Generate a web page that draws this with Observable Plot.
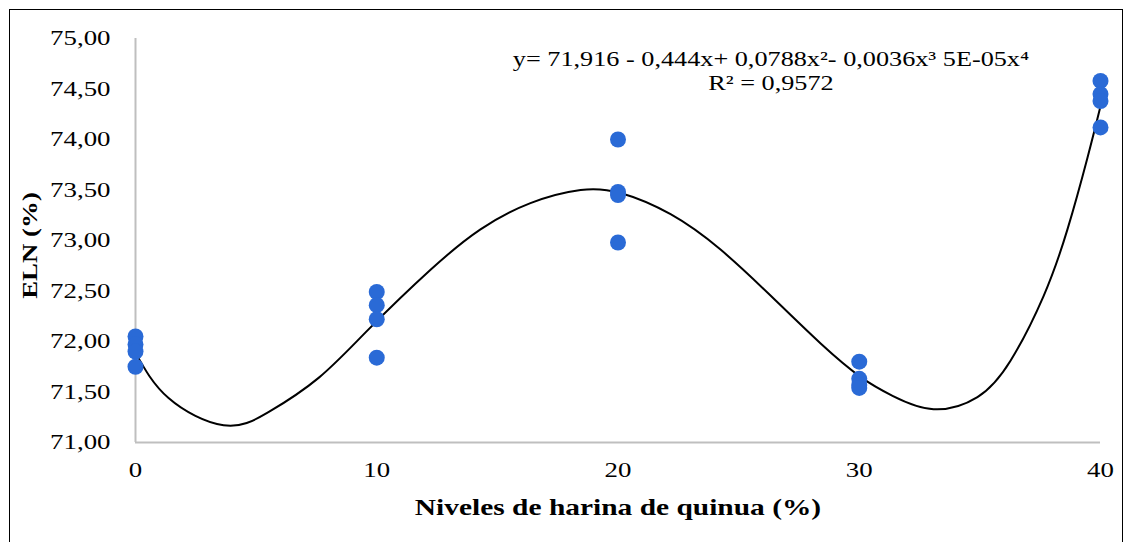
<!DOCTYPE html>
<html><head><meta charset="utf-8">
<script src="https://cdn.jsdelivr.net/npm/d3@7"></script>
<script src="https://cdn.jsdelivr.net/npm/@observablehq/plot@0.6"></script>
<style>
body{margin:0;background:#fff;width:1129px;height:542px;overflow:hidden;}
#frame{position:absolute;left:9px;top:9px;width:1112px;height:540px;border:1px solid #000;border-bottom:none;}
#chart{position:absolute;left:0;top:0;}
</style></head><body><div id="frame"></div><div id="chart"></div>
<script>
const levels = [0,0,0,0, 10,10,10,10, 20,20,20,20, 30,30,30,30, 40,40,40,40];
const eln = [72.05,71.97,71.90,71.75, 72.49,72.36,72.22,71.84, 74.00,73.48,73.45,72.98, 71.80,71.63,71.57,71.54, 74.58,74.45,74.38,74.12];
const trendX = [0,1.37,3.65,5.51,7.59,9.66,12.23,14.30,16.37,18.45,20.1,22.18,24.25,26.3,28.4,30.05,31.4,33.08,34.9,36.27,37.64,38.63,39.46,40];
const trendY = [71.89,71.44,71.17,71.30,71.64,72.12,72.71,73.11,73.37,73.50,73.47,73.26,72.91,72.46,71.98,71.65,71.46,71.33,71.45,71.81,72.45,73.11,73.82,74.33];
const yTicks = [71,71.5,72,72.5,73,73.5,74,74.5,75];
const xTicks = [0,10,20,30,40];
const equation = "y= 71,916 - 0,444x+ 0,0788x²- 0,0036x³ 5E-05x⁴";
const r2 = "R² = 0,9572";
const xTitle = "Niveles de harina de quinua (%)";
const yTitle = "ELN (%)";

const points = levels.map((x, i) => ({x, y: eln[i]}));
const trend = trendX.map((x, i) => ({x, y: trendY[i]}));
const fmt = d => d.toFixed(2).replace(".", ",");

const chart = Plot.plot({
  width: 1129,
  height: 542,
  marginLeft: 135,
  marginRight: 29,
  marginTop: 38,
  marginBottom: 100,
  style: {fontFamily: "'Liberation Serif', 'Times New Roman', serif", fontSize: "21px", color: "#000", background: "transparent"},
  x: {domain: [0, 40], ticks: xTicks, tickSize: 0, tickPadding: 20, label: null, tickFormat: d => String(d)},
  y: {domain: [71, 75], ticks: yTicks, tickSize: 0, tickPadding: 25, label: null, tickFormat: fmt},
  marks: [
    Plot.ruleX([0], {stroke: "#bfbfbf", strokeWidth: 2}),
    Plot.ruleY([71], {stroke: "#bfbfbf", strokeWidth: 2}),
    Plot.line(trend, {x: "x", y: "y", curve: "natural", stroke: "#000", strokeWidth: 2}),
    Plot.dot(points, {x: "x", y: "y", r: 8, fill: "#2a6ad6", stroke: "none"}),
    Plot.text([equation + "\n" + r2], {frameAnchor: "top", dx: 153, dy: 32, lineAnchor: "middle", lineHeight: 1.15, fontSize: 20.5, fill: "#000", textAnchor: "middle"}),
    Plot.text([xTitle], {frameAnchor: "bottom", dy: 72, fontSize: 23, fontWeight: "bold", fill: "#000", textAnchor: "middle"}),
    Plot.text([yTitle], {frameAnchor: "left", dx: -105, dy: 5, rotate: -90, fontSize: 21, fontWeight: "bold", fill: "#000", textAnchor: "middle"})
  ]
});
// widen glyphs horizontally to match the wide serif type of the reference
const s = 1.28;
chart.querySelectorAll("text").forEach(el => {
  const t = el.getAttribute("transform");
  if (t) {
    el.setAttribute("transform", t + ` scale(${s},1)`);
  } else {
    const x = +el.getAttribute("x") || 0, y = +el.getAttribute("y") || 0;
    el.setAttribute("transform", `translate(${x},${y}) scale(${s},1)`);
    el.removeAttribute("x"); el.removeAttribute("y");
  }
});
document.getElementById("chart").appendChild(chart);
</script></body></html>
